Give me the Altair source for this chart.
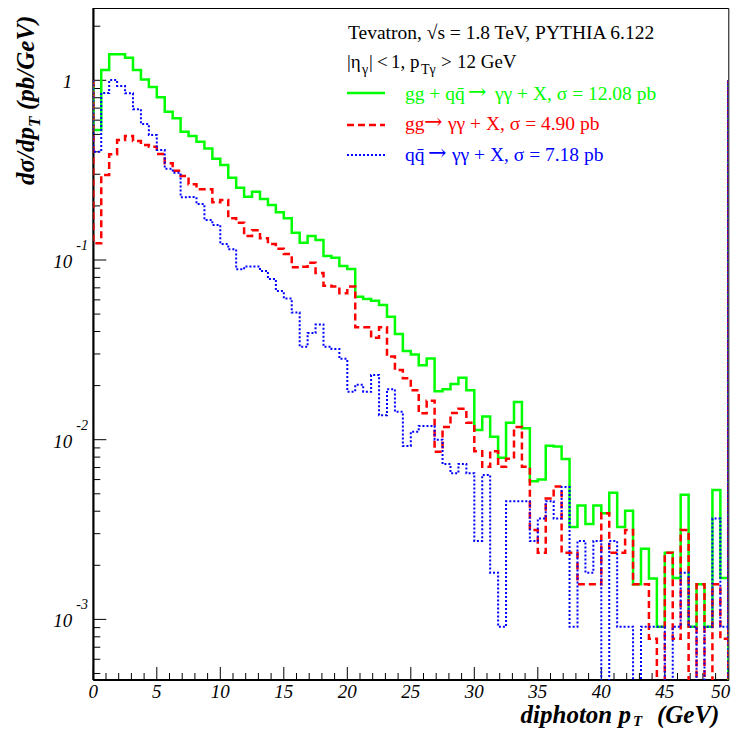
import altair as alt
import pandas as pd

# ---------------- data ----------------
X_MIN, X_MAX = 0.0, 50.0
BIN_W = 0.625
Y_MIN, Y_MAX = 4.6e-4, 2.5255

total = [0.529, 1.141, 1.395, 1.395, 1.336, 1.141, 1.010, 0.918, 0.805, 0.669,
         0.614, 0.518, 0.490, 0.455, 0.418, 0.366, 0.338, 0.287, 0.2525, 0.225,
         0.240, 0.2185, 0.2023, 0.1842, 0.1706, 0.1419, 0.1248, 0.136, 0.1292, 0.1052,
         0.103, 0.0926, 0.0891, 0.0625, 0.0607, 0.0594, 0.0562, 0.0484, 0.0388, 0.0312,
         0.0298, 0.0260, 0.0283, 0.0186, 0.0191, 0.0204, 0.0221, 0.01886, 0.01132, 0.01346,
         0.01039, 0.00794, 0.01243, 0.0162, 0.01159, 0.00587, 0.0060, 0.00925, 0.00917, 0.00781,
         0.00327, 0.0043, 0.0034, 0.0043, 0.0039, 0.00507, 0.00327, 0.00402, 0.00157, 0.00247,
         0.00169, 0.00091, 0.00235, 0.0017, 0.00494, 0.00091, 0.00157, 0.00091, 0.00525, 0.0017]

gg = [0.1239, 0.2972, 0.3876, 0.4653, 0.490, 0.4595, 0.4365, 0.427, 0.389, 0.345,
      0.314, 0.2934, 0.2637, 0.2474, 0.2474, 0.2095, 0.2157, 0.1706, 0.1613, 0.136,
      0.1463, 0.1321, 0.1228, 0.1156, 0.108, 0.0911, 0.0918, 0.0966, 0.0847, 0.0719,
      0.0712, 0.0653, 0.0711, 0.0422, 0.0422, 0.0369, 0.0422, 0.029, 0.0244, 0.02196,
      0.01886, 0.01402, 0.01648, 0.00857, 0.01177, 0.01408, 0.01488, 0.01243, 0.00862, 0.00706,
      0.00862, 0.00706, 0.00784, 0.01176, 0.00706, 0.00314, 0.00235, 0.0047, 0.00549, 0.00235,
      0.00235, 0.00157, 0.00157, 0.00157, 0.0039, 0.00235, 0.00235, 0.00314, 0.00157, 0.00157,
      0.00078, 0.0, 0.00235, 0.00078, 0.00314, 0.0, 0.00157, 0.0, 0.00157, 0.00078]

qq = [0.4006, 0.850, 1.004, 0.930, 0.847, 0.690, 0.571, 0.496, 0.4094, 0.322,
      0.306, 0.2233, 0.2241, 0.205, 0.167, 0.1565, 0.1228, 0.1147, 0.0887, 0.092,
      0.092, 0.0869, 0.0784, 0.0672, 0.0611, 0.051, 0.0329, 0.0392, 0.0438, 0.0329,
      0.032, 0.0282, 0.0185, 0.0202, 0.0185, 0.0229, 0.0137, 0.0191, 0.0143, 0.00923,
      0.01108, 0.01192, 0.01192, 0.0100, 0.00732, 0.0065, 0.00732, 0.0065, 0.00273, 0.00637,
      0.00182, 0.00091, 0.00455, 0.00455, 0.00455, 0.00273, 0.00364, 0.00455, 0.00364, 0.00546,
      0.00091, 0.00273, 0.00182, 0.00273, 0.0, 0.00273, 0.00091, 0.00091, 0.0, 0.00091,
      0.00091, 0.00091, 0.0, 0.00091, 0.00182, 0.00091, 0.0, 0.00091, 0.00364, 0.00091]

x_major = [0, 5, 10, 15, 20, 25, 30, 35, 40, 45, 50]
x_minor = [i for i in range(1, 50) if i % 5 != 0]
y_major = [1.0, 0.1, 0.01, 0.001]
y_base = ["1", "10", "10", "10"]
y_exp = ["", "-1", "-2", "-3"]
y_minor = [k * 10.0 ** e for e in range(-4, 1) for k in range(2, 10)
           if Y_MIN < k * 10.0 ** e < Y_MAX]

# ---------------- layout ----------------
W, H = 635, 672
FONT = "Liberation Serif"
FLOOR = 1e-7  # empty bins fall below the frame (clipped)


def hist_frame(vals, name):
    rows = [(0.0, 1.0)]
    for i, v in enumerate(vals):
        rows.append((i * BIN_W, v if v > 0 else FLOOR))
    last = vals[-1] if vals[-1] > 0 else FLOOR
    rows += [(X_MAX, last), (X_MAX, 1.0), (X_MAX, FLOOR)]
    return pd.DataFrame({"x": [r[0] for r in rows], "v": [r[1] for r in rows],
                         "o": list(range(len(rows))), "s": name})


xs = alt.Scale(domain=[X_MIN, X_MAX], nice=False, zero=False)
ys = alt.Scale(type="log", domain=[Y_MIN, Y_MAX], nice=False)


def hist_layer(vals, name, color, width, dash=None):
    kw = dict(color=color, strokeWidth=width, interpolate="step-after", clip=True)
    if dash:
        kw["strokeDash"] = dash
    return alt.Chart(hist_frame(vals, name)).mark_line(**kw).encode(
        x=alt.X("x:Q", scale=xs, axis=None),
        y=alt.Y("v:Q", scale=ys, axis=None),
        order="o:Q",
    )


def txt(s, x, y, size, color="black", style="normal", weight="normal",
        align="left", angle=0, baseline="alphabetic", font=FONT):
    kw = dict(text=s, x=x, y=y, fontSize=size, color=color, font=font,
              fontStyle=style, fontWeight=weight, align=align, baseline=baseline)
    if angle:
        kw["angle"] = angle
    return alt.Chart(pd.DataFrame({"a": [0]})).mark_text(**kw).encode()


def pg(px, py):
    # page pixel -> plot coordinates
    return px - 93.3, py - 8


layers = []

# frame thick left/bottom lines
layers.append(alt.Chart(pd.DataFrame({"a": [0]})).mark_rule(color="black", strokeWidth=2).encode(
    x=alt.value(0), y=alt.value(0), y2=alt.value(H)))
layers.append(alt.Chart(pd.DataFrame({"a": [0]})).mark_rule(color="black", strokeWidth=2).encode(
    x=alt.value(0), x2=alt.value(W), y=alt.value(H)))

# ticks
layers.append(alt.Chart(pd.DataFrame({"t": x_major})).mark_rule(color="black", strokeWidth=1).encode(
    x=alt.X("t:Q", scale=xs, axis=None), y=alt.value(H - 13), y2=alt.value(H)))
layers.append(alt.Chart(pd.DataFrame({"t": x_minor})).mark_rule(color="black", strokeWidth=1).encode(
    x=alt.X("t:Q", scale=xs, axis=None), y=alt.value(H - 7), y2=alt.value(H)))
layers.append(alt.Chart(pd.DataFrame({"t": y_major})).mark_rule(color="black", strokeWidth=1).encode(
    y=alt.Y("t:Q", scale=ys, axis=None), x=alt.value(0), x2=alt.value(13)))
layers.append(alt.Chart(pd.DataFrame({"t": y_minor})).mark_rule(color="black", strokeWidth=1).encode(
    y=alt.Y("t:Q", scale=ys, axis=None), x=alt.value(0), x2=alt.value(7)))

# x tick labels (last one kept inside the page, as ROOT does)
xl = pd.DataFrame({"t": x_major[:-1], "lab": [str(v) for v in x_major[:-1]]})
layers.append(alt.Chart(xl).mark_text(
    font=FONT, fontStyle="italic", fontSize=19, baseline="top", align="center", color="black").encode(
    x=alt.X("t:Q", scale=xs, axis=None), y=alt.value(H + 3), text="lab:N"))
xl2 = pd.DataFrame({"t": x_major[-1:], "lab": [str(v) for v in x_major[-1:]]})
layers.append(alt.Chart(xl2).mark_text(
    font=FONT, fontStyle="italic", fontSize=19, baseline="top", align="right", color="black", dx=2).encode(
    x=alt.X("t:Q", scale=xs, axis=None), y=alt.value(H + 3), text="lab:N"))

# y tick labels (base + superscript exponent)
ylab = pd.DataFrame({"t": y_major, "b": y_base, "e": y_exp})
layers.append(alt.Chart(ylab).mark_text(
    font=FONT, fontStyle="italic", fontSize=19, baseline="middle", align="right", color="black", dy=2).encode(
    y=alt.Y("t:Q", scale=ys, axis=None), x=alt.value(-21), text="b:N"))
layers.append(alt.Chart(ylab).mark_text(
    font=FONT, fontStyle="italic", fontSize=14, baseline="middle", align="left", color="black", dy=-14).encode(
    y=alt.Y("t:Q", scale=ys, axis=None), x=alt.value(-17), text="e:N"))

# histograms
layers.append(hist_layer(total, "total", "#00ff00", 2.5))
layers.append(hist_layer(gg, "gg", "#ff0000", 2.5, [7, 4]))
layers.append(hist_layer(qq, "qq", "#0000ff", 2, [2, 2]))

# axis titles
x, y = pg(631, 723)
layers.append(txt("diphoton p", x, y, 25, style="italic", weight="bold", align="right"))
x, y = pg(633, 726)
layers.append(txt("T", x, y, 15, style="italic", weight="bold"))
x, y = pg(657, 723)
layers.append(txt("(GeV)", x, y, 25, style="italic", weight="bold"))

x, y = pg(34, 185)
layers.append(txt("dσ/dp", x, y, 25, style="italic", weight="bold", angle=270))
x, y = pg(40, 127)
layers.append(txt("T", x, y, 17, style="italic", weight="bold", angle=270))
x, y = pg(34, 110)
layers.append(txt("(pb/GeV)", x, y, 25, style="italic", weight="bold", angle=270))

# legend / annotations
x, y = pg(348, 39)
layers.append(txt("Tevatron, √s = 1.8 TeV, PYTHIA 6.122", x, y, 19.5))
for s, px, py, sz in [("|η", 347, 68, 19), ("γ", 362, 74, 14), ("|", 369, 68, 19),
                      ("<", 377, 68, 19), ("1,", 391, 68, 19), ("p", 410, 68, 19),
                      ("Tγ", 421, 74, 14), (">", 441, 68, 19), ("12 GeV", 457, 68, 19)]:
    x, y = pg(px, py)
    layers.append(txt(s, x, y, sz))

ARROW = "\u2192"
legend_items = [
    # (before arrow, x, arrow x, after arrow, x, colour, text baseline, line y, dash, width)
    ("gg + qq\u0304", 405, 468, "\u03b3\u03b3 + X, \u03c3 = 12.08 pb", 495, "#00ff00", 100, 93, None, 2.5),
    ("gg", 405, 424, "\u03b3\u03b3 + X, \u03c3 = 4.90 pb", 448, "#ff0000", 130, 125, [7, 4], 2.5),
    ("qq\u0304", 405, 428, "\u03b3\u03b3 + X, \u03c3 =  7.18 pb", 452, "#0000ff", 161, 155, [2, 2], 2),
]
for a, ax_, arx, b, bx, c, ty, ly, dash, wdt in legend_items:
    x, y = pg(ax_, ty)
    layers.append(txt(a, x, y, 19.5, color=c))
    x, y = pg(arx, ty)
    layers.append(txt(ARROW, x, y - 1, 22, color=c, font="DejaVu Serif"))
    x, y = pg(bx, ty)
    layers.append(txt(b, x, y, 19.5, color=c))
    x1, yl = pg(347, ly)
    x2, _ = pg(385, ly)
    kw = dict(color=c, strokeWidth=wdt)
    if dash:
        kw["strokeDash"] = dash
    layers.append(alt.Chart(pd.DataFrame({"a": [0]})).mark_rule(**kw).encode(
        x=alt.value(x1), x2=alt.value(x2), y=alt.value(yl)))

chart = alt.layer(*layers).properties(
    width=W, height=H,
    autosize=alt.AutoSizeParams(type="none"),
    padding={"left": 85.3, "top": 0, "right": 4, "bottom": 48},
).configure_view(stroke="black", strokeWidth=1)

chart.save("out.html", embed_options={"renderer": "svg", "actions": False})
